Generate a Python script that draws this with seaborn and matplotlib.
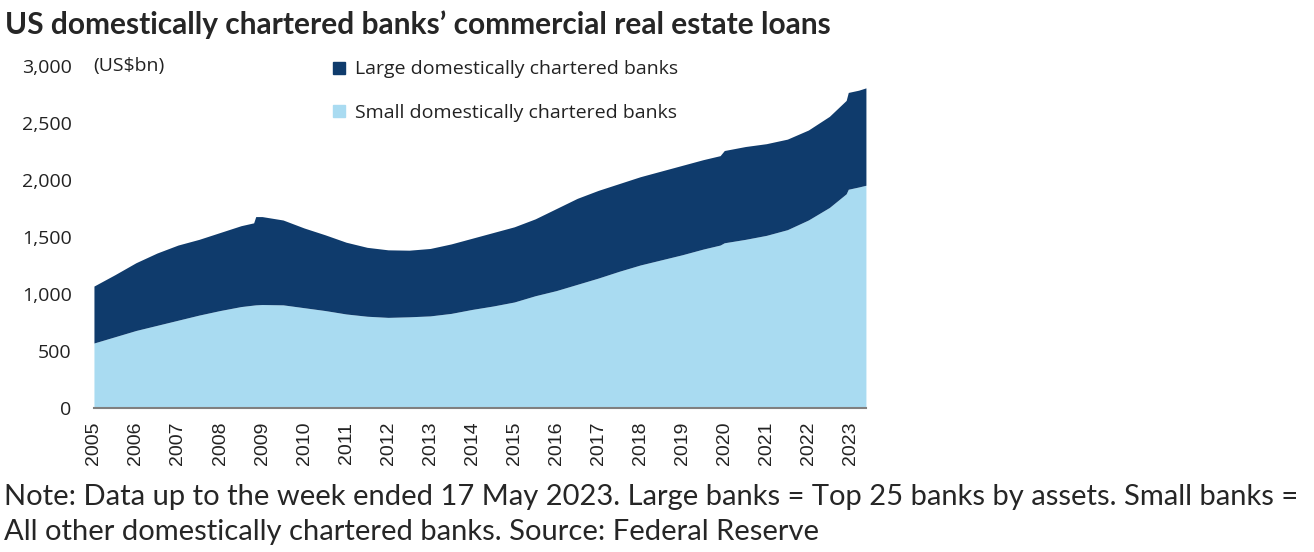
import numpy as np
import pandas as pd
import seaborn as sns
import matplotlib.pyplot as plt
from matplotlib.lines import Line2D

# time in decimal years, values in US$bn
years = [2005.0, 2005.5, 2006.0, 2006.5, 2007.0, 2007.5, 2008.0, 2008.5, 2008.8, 2008.85,
         2009.0, 2009.5, 2010.0, 2010.5, 2011.0, 2011.5, 2012.0, 2012.5, 2013.0, 2013.5,
         2014.0, 2014.5, 2015.0, 2015.5, 2016.0, 2016.5, 2017.0, 2017.5, 2018.0, 2018.5,
         2019.0, 2019.5, 2019.9, 2020.0, 2020.5, 2021.0, 2021.5, 2022.0, 2022.5, 2022.9,
         2022.95, 2023.2, 2023.37]
total = [1070, 1170, 1275, 1360, 1430, 1480, 1540, 1600, 1625, 1680,
         1680, 1650, 1580, 1520, 1455, 1410, 1388, 1385, 1400, 1440,
         1490, 1540, 1590, 1660, 1750, 1840, 1910, 1970, 2030, 2080,
         2130, 2180, 2215, 2260, 2295, 2320, 2360, 2440, 2560, 2700,
         2770, 2790, 2810]
small = [570, 625, 680, 725, 770, 815, 855, 890, 903, 905,
         908, 905, 880, 855, 825, 805, 795, 800, 808, 830,
         865, 895, 930, 985, 1030, 1085, 1140, 1200, 1255, 1300,
         1345, 1395, 1430, 1450, 1480, 1515, 1565, 1650, 1760, 1880,
         1920, 1940, 1955]
large = [t - s for t, s in zip(total, small)]
tick_years = list(range(2005, 2024))

df = pd.DataFrame({"year": years, "small": small, "large": large})

sns.set_style("white")
plt.rcParams["font.family"] = ["Open Sans", "DejaVu Sans"]

dark = "#0f3b6c"
light = "#a9dbf1"

fig = plt.figure(figsize=(13.14, 5.52), dpi=100)
ax = fig.add_axes([0.0715, 0.261, 0.5875, 0.619])

ax.stackplot(df["year"], df["small"], df["large"], colors=[light, dark], linewidth=0)

ax.set_xlim(2005, 2023.37)
ax.set_ylim(0, 3000)
ax.set_yticks(range(0, 3001, 500))
ax.set_yticklabels([f"{v:,}" for v in range(0, 3001, 500)], fontsize=14, color="#222222")
ax.set_xticks(tick_years)
ax.set_xticklabels([str(y) for y in tick_years], rotation=90, fontsize=14,
                   family=["Liberation Sans"], color="#222222")
ax.tick_params(axis="y", length=0, pad=16)
ax.tick_params(axis="x", length=6, width=1.5, color="#808080", direction="out", pad=4)
sns.despine(ax=ax, left=True)
ax.spines["bottom"].set_color("#808080")
ax.spines["bottom"].set_linewidth(1.5)

ax.text(-0.001, 1.0, "(US$bn)", transform=ax.transAxes, fontsize=14, va="center", ha="left",
        color="#222222")

handles = [Line2D([], [], marker="s", color="none", markerfacecolor=dark, markeredgecolor=dark, markersize=9),
           Line2D([], [], marker="s", color="none", markerfacecolor=light, markeredgecolor=light, markersize=9)]
leg = ax.legend(handles, ["Large domestically chartered banks", "Small domestically chartered banks"],
                loc="upper left", bbox_to_anchor=(0.3, 1.04), frameon=False, fontsize=14,
                handlelength=0.6, handletextpad=0.5, labelspacing=1.3, borderaxespad=0)
for t in leg.get_texts():
    t.set_color("#222222")

fig.text(0.004, 0.955, "US domestically chartered banks\u2019 commercial real estate loans",
         fontsize=21.5, fontweight="bold", family=["Lato", "DejaVu Sans"], va="center", ha="left")
fig.text(0.003, 0.1, "Note: Data up to the week ended 17 May 2023. Large banks = Top 25 banks by assets. Small banks =",
         fontsize=21, family=["Lato", "DejaVu Sans"], va="center", ha="left")
fig.text(0.003, 0.036, "All other domestically chartered banks. Source: Federal Reserve",
         fontsize=21, family=["Lato", "DejaVu Sans"], va="center", ha="left")

fig.savefig("out.png", dpi=100)
